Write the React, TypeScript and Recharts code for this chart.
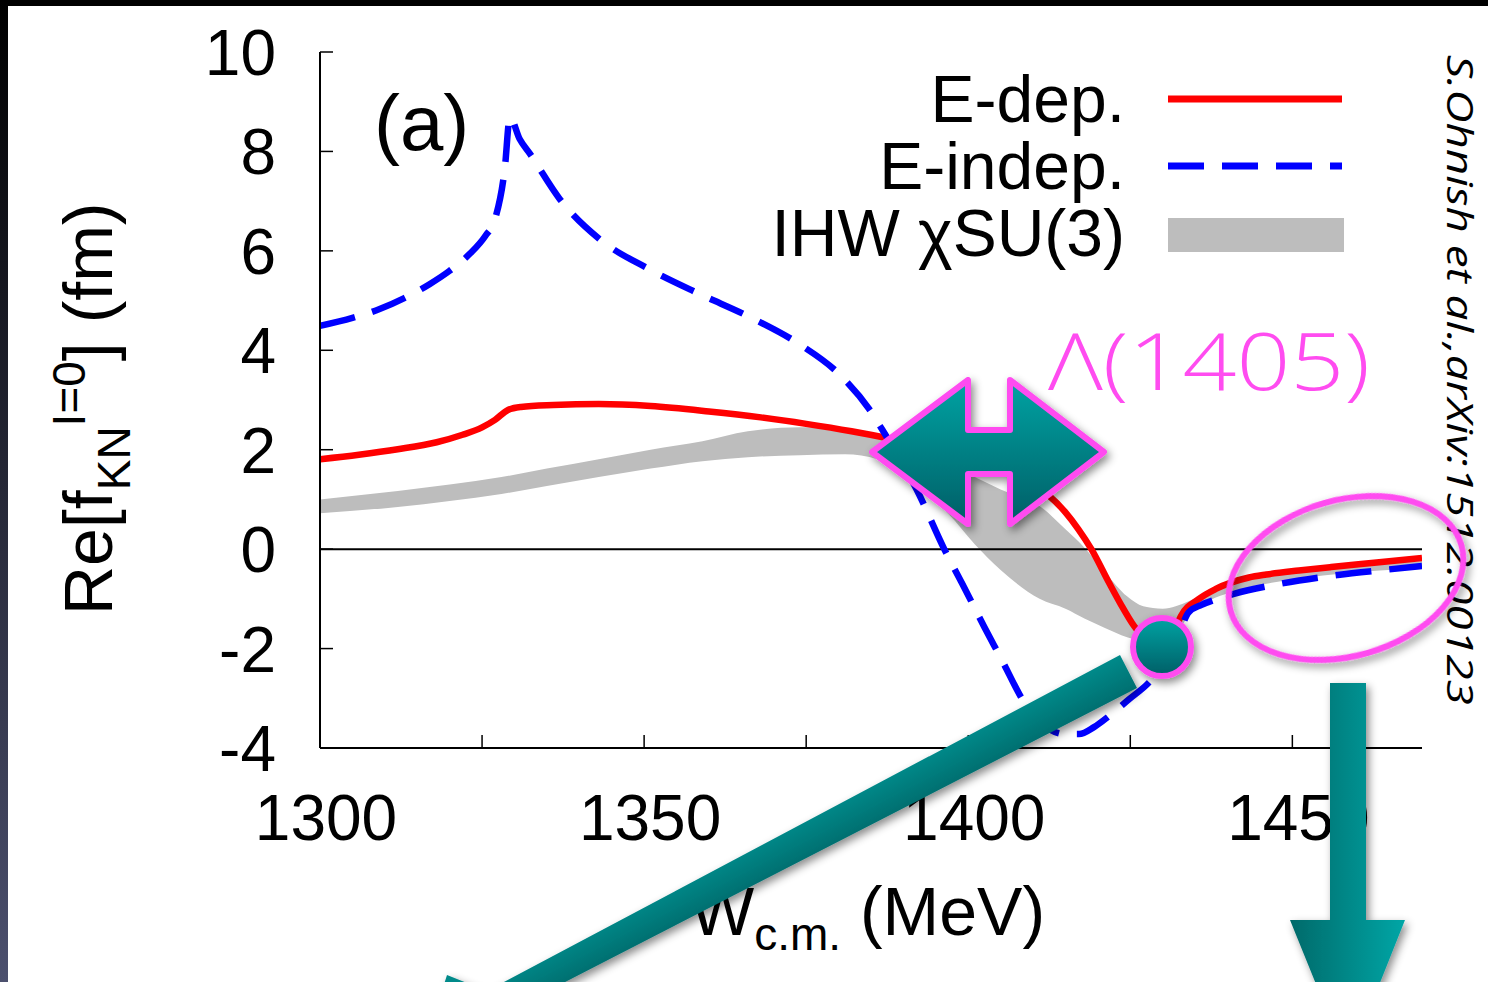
import React from 'react';
import { ComposedChart, Line, Area, XAxis, YAxis, ReferenceLine } from 'recharts';

// axis ticks (MeV / fm)
const W_TICKS = [1300, 1325, 1350, 1375, 1400, 1425, 1450];
const W_LABELED = [1300, 1350, 1400, 1450];
const RE_TICKS = [-4, -2, 0, 2, 4, 6, 8, 10];

// E-dep. : [W_cm, Re f]
const E_DEP: [number, number][] = [
  [1300, 1.81], [1306, 1.9], [1312, 2.01], [1318, 2.15], [1322, 2.3], [1325, 2.45],
  [1327, 2.6], [1329, 2.8], [1331, 2.86], [1336, 2.9], [1343, 2.92], [1351, 2.88],
  [1360, 2.77], [1368, 2.65], [1375, 2.52], [1382, 2.37], [1388, 2.22], [1394, 2.05],
  [1400, 1.85], [1405, 1.6], [1409, 1.35], [1412.5, 1.07], [1415, 0.74], [1417, 0.4],
  [1419, 0.0], [1421.7, -0.67], [1423.5, -1.1], [1425.6, -1.55], [1428, -1.9], [1430, -2.0],
  [1431.5, -1.75], [1432.8, -1.35], [1435.6, -1.0], [1438.2, -0.8], [1443.3, -0.57],
  [1446, -0.51], [1451, -0.43], [1456, -0.36], [1463, -0.27], [1470, -0.18],
];

// E-indep.
const E_INDEP: [number, number][] = [
  [1300, 4.49], [1305, 4.65], [1309.2, 4.83], [1313, 5.05], [1316.9, 5.33], [1320, 5.6],
  [1323.1, 5.94], [1325.5, 6.3], [1327, 6.64], [1328.5, 7.65], [1329.3, 8.69], [1330.8, 8.25],
  [1332.4, 7.95], [1337, 7.04], [1343.1, 6.24], [1350.8, 5.63], [1358.6, 5.13], [1366.3, 4.67],
  [1374, 4.12], [1380.1, 3.52], [1384.7, 2.82], [1386.7, 2.41], [1389.5, 1.8], [1392, 1.21],
  [1396.3, 0.0], [1399.1, -0.7], [1402.5, -1.57], [1405.5, -2.31], [1407.9, -2.92],
  [1410.2, -3.38], [1412.5, -3.62], [1414.8, -3.72], [1417.1, -3.72], [1419.4, -3.58],
  [1421.7, -3.36], [1424.8, -3.02], [1427.9, -2.68], [1431.7, -2.01], [1434, -1.27],
  [1436, -1.12], [1438, -1.02], [1441, -0.9], [1448, -0.7], [1457, -0.52], [1464, -0.42],
  [1470, -0.34],
];

// IHW chiSU(3) band
const IHW_W = [
  1300, 1312, 1320, 1328, 1335, 1343, 1351, 1359, 1366, 1374, 1381, 1386, 1390, 1394, 1397,
  1401, 1405, 1411, 1415, 1418, 1421, 1424.5, 1427, 1430, 1432, 1434, 1437, 1441, 1448, 1457, 1470,
];
const IHW_LOW = [
  0.72, 0.85, 0.97, 1.11, 1.27, 1.45, 1.62, 1.77, 1.85, 1.89, 1.91, 1.81, 1.5, 1.05, 0.7,
  0.1, -0.42, -1.0, -1.2, -1.4, -1.58, -1.77, -1.85, -1.9, -1.7, -1.35, -1.05, -0.85, -0.65, -0.5, -0.38,
];
const IHW_HIGH = [
  1.0, 1.17, 1.3, 1.45, 1.62, 1.81, 2.0, 2.17, 2.37, 2.45, 2.41, 2.25, 2.1, 1.9, 1.7,
  1.45, 1.2, 0.87, 0.4, 0.02, -0.45, -0.95, -1.15, -1.2, -1.15, -1.05, -0.85, -0.65, -0.5, -0.36, -0.24,
];

const LEGEND_LABELS = ['E-dep.', 'E-indep.', 'IHW \u03C7SU(3)'];

const eDepData = E_DEP.map(([w, re]) => ({ w, re }));
const eIndepData = E_INDEP.map(([w, re]) => ({ w, re }));
const ihwData = IHW_W.map((w, i) => ({ w, band: [IHW_LOW[i], IHW_HIGH[i]] }));

const FONT = '"Liberation Sans", Arial, sans-serif';
const RED = '#ff0000';
const BLUE = '#0000ff';
const GRAY = '#bdbdbd';
const MAGENTA = '#ff4cf0';
const TICK = 13;

const BottomTick = (props: any) => {
  const { x, y, payload } = props;
  const show = W_LABELED.includes(payload.value);
  return (
    <g>
      <line x1={x} x2={x} y1={y} y2={y - TICK} stroke="#000" strokeWidth={1.5} />
      {show && (
        <text x={x + 6} y={y + 92} textAnchor="middle" fontSize={64} fontFamily={FONT} fill="#000">
          {payload.value}
        </text>
      )}
    </g>
  );
};

const TopTick = (props: any) => {
  const { x, y } = props;
  return <line x1={x} x2={x} y1={y} y2={y + TICK} stroke="#000" strokeWidth={1.5} />;
};

const LeftTick = (props: any) => {
  const { x, y, payload } = props;
  return (
    <g>
      <line x1={x} x2={x + TICK} y1={y} y2={y} stroke="#000" strokeWidth={1.5} />
      <text x={x - 44} y={y} dy="0.36em" textAnchor="end" fontSize={64} fontFamily={FONT} fill="#000">
        {payload.value}
      </text>
    </g>
  );
};

const RightTick = (props: any) => {
  const { x, y } = props;
  return <line x1={x} x2={x - TICK} y1={y} y2={y} stroke="#000" strokeWidth={1.5} />;
};

export default function App() {
  return (
    <div
      style={{
        position: 'absolute',
        left: 0,
        top: 0,
        width: 1488,
        height: 982,
        background: '#fff',
        overflow: 'hidden',
        fontFamily: FONT,
      }}
    >
      <ComposedChart width={1488} height={982} margin={{ top: 52, right: 66, bottom: 174, left: 220 }}>
        <XAxis
          dataKey="w"
          type="number"
          domain={[1300, 1470]}
          ticks={W_TICKS}
          interval={0}
          allowDataOverflow
          height={60}
          tickSize={0}
          tickMargin={0}
          tickLine={false}
          axisLine={{ stroke: '#000', strokeWidth: 2 }}
          tick={BottomTick}
        />
        <XAxis
          xAxisId="top"
          orientation="top"
          dataKey="w"
          type="number"
          domain={[1300, 1470]}
          ticks={W_TICKS}
          interval={0}
          allowDataOverflow
          height={0}
          tickSize={0}
          tickMargin={0}
          tickLine={false}
          axisLine={{ stroke: '#000', strokeWidth: 2 }}
          tick={TopTick}
        />
        <YAxis
          type="number"
          domain={[-4, 10]}
          ticks={RE_TICKS}
          interval={0}
          allowDataOverflow
          width={100}
          tickSize={0}
          tickMargin={0}
          tickLine={false}
          axisLine={{ stroke: '#000', strokeWidth: 2 }}
          tick={LeftTick}
        />
        <YAxis
          yAxisId="right"
          orientation="right"
          type="number"
          domain={[-4, 10]}
          ticks={RE_TICKS}
          interval={0}
          allowDataOverflow
          width={0}
          tickSize={0}
          tickMargin={0}
          tickLine={false}
          axisLine={{ stroke: '#000', strokeWidth: 2 }}
          tick={RightTick}
        />
        <Area
          data={ihwData}
          dataKey="band"
          type="monotone"
          fill={GRAY}
          fillOpacity={1}
          stroke="none"
          isAnimationActive={false}
        />
        <ReferenceLine y={0} stroke="#000" strokeWidth={2} />
        <Line
          data={eDepData}
          dataKey="re"
          type="monotone"
          stroke={RED}
          strokeWidth={6.5}
          dot={false}
          isAnimationActive={false}
        />
        <Line
          data={eIndepData}
          dataKey="re"
          type="monotone"
          stroke={BLUE}
          strokeWidth={6.5}
          strokeDasharray="36 18"
          dot={false}
          isAnimationActive={false}
        />
      </ComposedChart>

      <svg
        width={1488}
        height={982}
        style={{ position: 'absolute', left: 0, top: 0, pointerEvents: 'none' }}
      >
        <defs>
          <linearGradient id="tealV" x1="0" y1="0" x2="0" y2="1">
            <stop offset="0" stopColor="#00a3a3" />
            <stop offset="1" stopColor="#005e66" />
          </linearGradient>
          <linearGradient id="tealH" x1="0" y1="0" x2="1" y2="0">
            <stop offset="0" stopColor="#006a6a" />
            <stop offset="1" stopColor="#00a6a6" />
          </linearGradient>
          <linearGradient id="tealD" gradientUnits="userSpaceOnUse" x1="1120" y1="655" x2="1137" y2="688">
            <stop offset="0" stopColor="#008a8a" />
            <stop offset="1" stopColor="#006f70" />
          </linearGradient>
          <filter id="shadow" x="-20%" y="-20%" width="140%" height="140%">
            <feDropShadow dx="3" dy="4" stdDeviation="4" floodColor="#000" floodOpacity="0.45" />
          </filter>
        </defs>

        {/* panel label */}
        <text x={374} y={150} fontSize={78} fontFamily={FONT} fill="#000">(a)</text>

        {/* legend */}
        {LEGEND_LABELS.map((label, i) => (
          <text
            key={label}
            x={1125}
            y={122 + i * 67}
            textAnchor="end"
            fontSize={66}
            fontFamily={FONT}
            fill="#000"
          >
            {label}
          </text>
        ))}
        <line x1={1168} x2={1342} y1={99} y2={99} stroke={RED} strokeWidth={7} />
        <line x1={1168} x2={1342} y1={166} y2={166} stroke={BLUE} strokeWidth={7} strokeDasharray="36 18" />
        <rect x={1168} y={218} width={176} height={34} fill={GRAY} />

        {/* y axis title */}
        <text transform="translate(112,615) rotate(-90)" fontSize={68} fontFamily={FONT} fill="#000">
          Re[f
          <tspan fontSize={46} dy={18}>KN</tspan>
          <tspan fontSize={46} dy={-45}>I=0</tspan>
          <tspan dy={27}>] (fm)</tspan>
        </text>

        {/* x axis title */}
        <text x={690} y={935} fontSize={68} fontFamily={FONT} fill="#000">
          W
          <tspan fontSize={46} dy={15}>c.m.</tspan>
          <tspan dy={-15}> (MeV)</tspan>
        </text>

        {/* citation */}
        <text
          transform="translate(1447,55) rotate(90)"
          fontSize={37}
          fontStyle="italic"
          fontFamily='"Open Sans", "Noto Sans", sans-serif'
          textLength={650}
          lengthAdjust="spacingAndGlyphs"
          fill="#000"
        >
          S.Ohnish et al.,arXiv:1512.00123
        </text>

        {/* annotations */}
        <text
          x={1048}
          y={390}
          fontSize={80}
          fontWeight={300}
          fontFamily='"Open Sans", "Noto Sans", sans-serif'
          textLength={322}
          lengthAdjust="spacingAndGlyphs"
          fill={MAGENTA}
        >
          {'\u039B(1405)'}
        </text>

        <g filter="url(#shadow)">
          <polygon
            points="872,452 968,380 968,430 1010,430 1010,380 1104,452 1010,524 1010,474 968,474 968,524"
            fill="url(#tealV)"
            stroke={MAGENTA}
            strokeWidth={6}
            strokeLinejoin="round"
          />
          <ellipse
            cx={1346}
            cy={578}
            rx={120}
            ry={78}
            transform="rotate(-16 1346 578)"
            fill="none"
            stroke={MAGENTA}
            strokeWidth={6}
          />
          <polygon
            points="1120,655 1137,688 466,1033 508,1049 420,1060 447,975 487,991"
            fill="url(#tealD)"
          />
          <circle cx={1162} cy={647} r={29} fill="url(#tealV)" stroke={MAGENTA} strokeWidth={6} />
          <polygon
            points="1330,683 1366,683 1366,920 1405,920 1348,1063 1290,920 1330,920"
            fill="url(#tealH)"
          />
        </g>
      </svg>

      {/* slide edges */}
      <div style={{ position: 'absolute', left: 0, top: 0, width: 1488, height: 6, background: '#000' }} />
      <div
        style={{
          position: 'absolute',
          left: 0,
          top: 0,
          width: 8,
          height: 982,
          background: 'linear-gradient(#000000, #4c506e)',
        }}
      />
    </div>
  );
}
